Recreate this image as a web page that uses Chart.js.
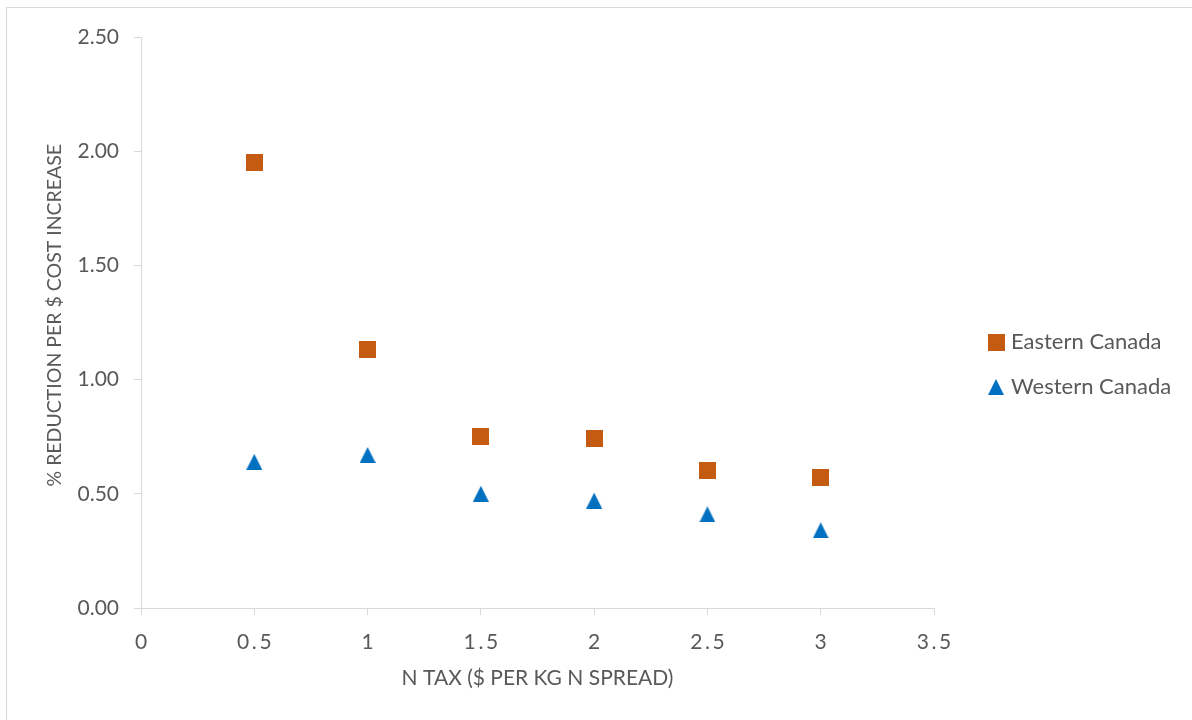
<!DOCTYPE html>
<html>
<head>
<meta charset="utf-8">
<script src="https://cdn.jsdelivr.net/npm/chart.js@4"></script>
<style>
  html, body { margin: 0; padding: 0; background: #fff; }
  body { width: 1192px; height: 720px; position: relative; overflow: hidden; }
  #frame { position: absolute; left: 6px; top: 7px; width: 1200px; height: 730px;
           border-left: 1px solid #d9d9d9; border-top: 1px solid #d9d9d9; box-sizing: border-box; }
  #wrap { position: absolute; left: 0; top: 0; width: 1192px; height: 720px; }
</style>
</head>
<body>
<div id="frame"></div>
<div id="wrap"><canvas id="chart" width="1192" height="720"></canvas></div>
<script>
// N tax levels ($ per kg N spread)
const taxLevels = [0.5, 1, 1.5, 2, 2.5, 3];
// % reduction per $ cost increase
const easternCanada = [1.95, 1.13, 0.75, 0.74, 0.60, 0.57];
const westernCanada = [0.64, 0.67, 0.50, 0.47, 0.41, 0.34];
const seriesNames = ['Eastern Canada', 'Western Canada'];
const xTickValues = [0, 0.5, 1, 1.5, 2, 2.5, 3, 3.5];
const yTickValues = [0, 0.5, 1, 1.5, 2, 2.5];
const xTitle = 'N TAX ($ PER KG N SPREAD)';
const yTitle = '% REDUCTION PER $ COST INCREASE';

const ORANGE = '#C55A11';
const BLUE = '#0070C0';
const TEXT = '#595959';
const AXIS = '#d9d9d9';
const FONT = 'Lato, "Open Sans", sans-serif';

const W = 1192;
const LEGEND_FONT = 22;
const LEGEND_PAD = 23;
const LEGEND_BOX = 8;
const PLOT_RIGHT = 934;
const LEGEND_TEXT_X = 1011;

// Marker images: a filled square and an upward triangle, both centred on the point.
function squareMarker(size, color) {
  const c = document.createElement('canvas');
  c.width = size; c.height = size;
  const g = c.getContext('2d');
  g.fillStyle = color;
  g.fillRect(0, 0, size, size);
  return c;
}
function triangleMarker(w, h, color) {
  const c = document.createElement('canvas');
  c.width = w; c.height = h;
  const g = c.getContext('2d');
  g.fillStyle = color;
  g.beginPath();
  g.moveTo(w / 2, 0);
  g.lineTo(w, h);
  g.lineTo(0, h);
  g.closePath();
  g.fill();
  return c;
}
const sq = squareMarker(17, ORANGE);
const tri = triangleMarker(16, 16, BLUE);

// Legend geometry: the legend box starts where its text lands at LEGEND_TEXT_X,
// and the right padding takes up whatever is left after the widest label.
const mctx = document.createElement('canvas').getContext('2d');
mctx.font = 'normal ' + LEGEND_FONT + 'px ' + FONT;
const widestLabel = Math.max(...seriesNames.map(n => mctx.measureText(n).width));
const legendLeft = LEGEND_TEXT_X - LEGEND_PAD - LEGEND_BOX - LEGEND_FONT / 2;
const legendWidth = LEGEND_PAD + LEGEND_BOX + LEGEND_FONT / 2 + widestLabel + 10;
const rightPad = Math.max(0, W - legendLeft - legendWidth);
const gapWidth = legendLeft - PLOT_RIGHT;

const toPoints = vals => taxLevels.map((x, i) => ({ x, y: vals[i] }));

// Insert thin spaces between the characters of decimal tick labels.
const spaced = s => s.indexOf('.') >= 0 ? s.split('').join('\u2009') : s;

new Chart(document.getElementById('chart'), {
  type: 'scatter',
  data: {
    datasets: [
      { label: seriesNames[0], data: toPoints(easternCanada), pointStyle: sq,
        backgroundColor: ORANGE, borderColor: ORANGE, pointRadius: 9, pointHoverRadius: 9 },
      { label: seriesNames[1], data: toPoints(westernCanada), pointStyle: tri,
        backgroundColor: BLUE, borderColor: BLUE, pointRadius: 9, pointHoverRadius: 9 }
    ]
  },
  options: {
    responsive: false,
    animation: false,
    events: [],
    layout: { padding: { left: 20, top: 37, right: rightPad, bottom: 28 } },
    plugins: {
      tooltip: { enabled: false },
      legend: {
        position: 'right',
        align: 'center',
        maxWidth: 400,
        labels: {
          usePointStyle: true,
          pointStyleWidth: LEGEND_BOX,
          padding: LEGEND_PAD,
          color: TEXT,
          font: { family: FONT, size: LEGEND_FONT }
        }
      }
    },
    scales: {
      x: {
        type: 'linear',
        min: 0, max: 3.5,
        afterBuildTicks: s => { s.ticks = xTickValues.map(v => ({ value: v })); },
        afterFit: s => { s.height = 84; },
        grid: { drawOnChartArea: false, drawTicks: true, tickLength: 7, color: AXIS, lineWidth: 1 },
        border: { color: AXIS, width: 1 },
        ticks: {
          color: TEXT, padding: 15, maxRotation: 0, autoSkip: false,
          font: { family: FONT, size: 21 },
          callback: v => spaced(String(v))
        },
        title: { display: true, text: xTitle, color: TEXT, font: { family: FONT, size: 21 },
                 padding: { top: 0, bottom: 1 } }
      },
      y: {
        min: 0, max: 2.5,
        afterBuildTicks: s => { s.ticks = yTickValues.map(v => ({ value: v })); },
        afterFit: s => { s.width = 121; },
        grid: { drawOnChartArea: false, drawTicks: true, tickLength: 7, color: AXIS, lineWidth: 1 },
        border: { color: AXIS, width: 1 },
        ticks: {
          color: TEXT, padding: 15,
          font: { family: FONT, size: 21 },
          callback: v => Number(v).toFixed(2)
        },
        title: { display: true, text: '\u2003' + yTitle, color: TEXT, font: { family: FONT, size: 19.5 },
                 padding: { top: 23, bottom: 0 } }
      },
      gap: {
        position: 'right',
        type: 'linear',
        display: true,
        afterFit: s => { s.width = gapWidth; },
        grid: { display: false, drawTicks: false },
        border: { display: false },
        ticks: { display: false },
        title: { display: false }
      }
    }
  }
});
</script>
</body>
</html>
